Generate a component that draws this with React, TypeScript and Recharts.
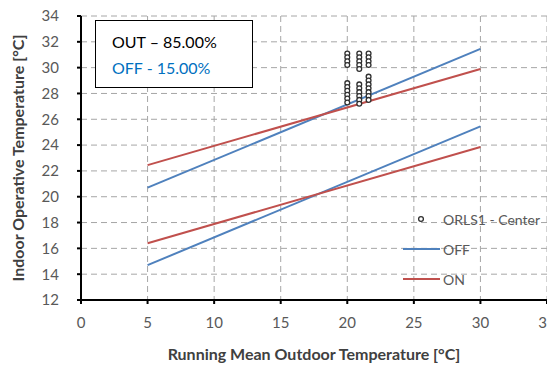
import React from "react";
import {
  ComposedChart,
  Line,
  Scatter,
  XAxis,
  YAxis,
  CartesianGrid,
} from "recharts";

// comfort band limits (running mean outdoor temp -> indoor operative temp)
const bandX = [5, 30];
const offUpper = [20.7, 31.45];
const offLower = [14.7, 25.45];
const onUpper = [22.45, 29.9];
const onLower = [16.4, 23.85];

// measured points, one column per x value
const pointX = [20, 20.9, 21.6];
const pointCols = [
  [31.1, 30.8, 30.5, 30.2, 28.8, 28.5, 28.2, 27.9, 27.6, 27.3],
  [31.1, 30.8, 30.5, 30.2, 29.9, 28.7, 28.4, 28.1, 27.8, 27.5, 27.2],
  [31.1, 30.8, 30.5, 30.2, 29.3, 29.0, 28.7, 28.4, 28.1, 27.8, 27.5],
];

const xTicks = [0, 5, 10, 15, 20, 25, 30, 35];
const yTicks = [12, 14, 16, 18, 20, 22, 24, 26, 28, 30, 32, 34];

const summary = [
  { text: "OUT \u2013 85.00%", color: "#000000" },
  { text: "OFF - 15.00%", color: "#0070C0" },
];

const BLUE = "#4F81BD";
const RED = "#C0504D";
const FONT = "Lato, 'Open Sans', sans-serif";

const toLine = (ys: number[]) => bandX.map((x, i) => ({ x, y: ys[i] }));
const points = pointCols.flatMap((col, i) => col.map((y) => ({ x: pointX[i], y })));

const legendItems = [
  { name: "ORLS1 - Center", kind: "dot" },
  { name: "OFF", kind: "line", color: BLUE },
  { name: "ON", kind: "line", color: RED },
];

const Ring = (props: any) => (
  <circle cx={props.cx} cy={props.cy} r={2.4} fill="#ffffff" stroke="#303030" strokeWidth={1.3} />
);

const LegendBox = () => (
  <div
    style={{
      position: "absolute",
      left: 395,
      top: 196,
      fontFamily: FONT,
      fontSize: 14,
      color: "#595959",
    }}
  >
    {legendItems.map((it) => (
      <div key={it.name} style={{ display: "flex", alignItems: "center", height: 30 }}>
        <svg width={38} height={10}>
          {it.kind === "dot" ? (
            <circle cx={18} cy={5} r={2.4} fill="#fff" stroke="#303030" strokeWidth={1.3} />
          ) : (
            <line x1={0} y1={5} x2={37} y2={5} stroke={it.color} strokeWidth={2} />
          )}
        </svg>
        <span style={{ marginLeft: 2 }}>{it.name}</span>
      </div>
    ))}
  </div>
);

const tickStyle = { fill: "#595959", fontSize: 15, fontFamily: FONT };
const labelStyle = { fill: "#404040", fontSize: 16, fontWeight: 700, fontFamily: FONT };

export default function App() {
  return (
    <div style={{ position: "relative", width: 547, height: 355 }}>
      <ComposedChart
        width={547}
        height={355}
        margin={{ top: 8, right: 8, left: 0, bottom: 0 }}
        style={{ overflow: "visible" }}
      >
        <CartesianGrid stroke="#a6a6a6" strokeDasharray="6 4" strokeWidth={1} />
        <XAxis
          type="number"
          dataKey="x"
          domain={[0, 35]}
          ticks={xTicks}
          interval={0}
          height={63}
          stroke="#000"
          strokeWidth={2}
          tickSize={4}
          tickMargin={13}
          tick={tickStyle}
          label={{
            value: "Running Mean Outdoor Temperature [\u00b0C]",
            position: "insideBottom",
            offset: 3,
            style: labelStyle,
          }}
        />
        <YAxis
          type="number"
          dataKey="y"
          domain={[12, 34]}
          ticks={yTicks}
          interval={0}
          width={73}
          stroke="#000"
          strokeWidth={2}
          tickSize={4}
          tickMargin={18}
          tick={tickStyle}
          label={{
            value: "Indoor Operative Temperature [\u00b0C]",
            angle: -90,
            position: "insideLeft",
            offset: 10,
            style: { ...labelStyle, textAnchor: "middle" },
          }}
        />
        <Line data={toLine(offUpper)} dataKey="y" stroke={BLUE} strokeWidth={2} dot={false} isAnimationActive={false} />
        <Line data={toLine(offLower)} dataKey="y" stroke={BLUE} strokeWidth={2} dot={false} isAnimationActive={false} />
        <Line data={toLine(onUpper)} dataKey="y" stroke={RED} strokeWidth={2} dot={false} isAnimationActive={false} />
        <Line data={toLine(onLower)} dataKey="y" stroke={RED} strokeWidth={2} dot={false} isAnimationActive={false} />
        <Scatter data={points} dataKey="y" shape={<Ring />} isAnimationActive={false} />
      </ComposedChart>
      <LegendBox />
      <div
        style={{
          position: "absolute",
          left: 87,
          top: 12,
          width: 158,
          height: 68,
          border: "1.5px solid #000",
          background: "#fff",
          fontFamily: FONT,
          fontSize: 16,
          paddingLeft: 16,
          paddingTop: 8,
          boxSizing: "border-box",
          lineHeight: "26px",
        }}
      >
        {summary.map((s) => (
          <div key={s.text} style={{ color: s.color }}>
            {s.text}
          </div>
        ))}
      </div>
    </div>
  );
}
